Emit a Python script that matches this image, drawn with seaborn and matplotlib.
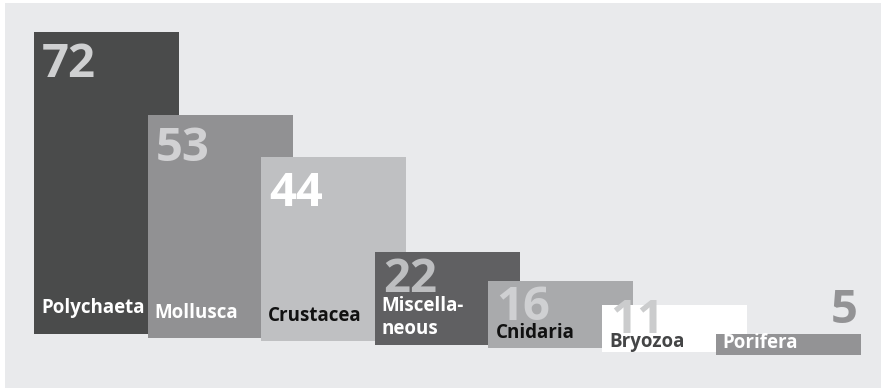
import matplotlib
matplotlib.use("Agg")
import matplotlib.pyplot as plt
import seaborn as sns

# ---- data ----
categories = ["Polychaeta", "Mollusca", "Crustacea", "Miscellaneous", "Cnidaria", "Bryozoa", "Porifera"]
label_texts = ["Polychaeta", "Mollusca", "Crustacea", "Miscella-\nneous", "Cnidaria", "Bryozoa", "Porifera"]
values = [72, 53, 44, 22, 16, 11, 5]

# ---- style ----
bar_colors = ["#4a4b4b", "#919193", "#bfc0c2", "#606062", "#a9aaac", "#ffffff", "#939395"]
num_colors = ["#cfd0d1", "#d1d1d3", "#ffffff", "#bdbec0", "#cfd0d2", "#cbcccd", "#939395"]
lab_colors = ["#ffffff", "#ffffff", "#111111", "#ffffff", "#111111", "#444546", "#ffffff"]
bg = "#e9eaec"

W, H = 883, 390
DPI = 100
PX_PER_UNIT = 4.19          # vertical pixels per value unit
STEP_PX = 113.6             # horizontal step between bars
BAR_W = 145.0 / STEP_PX     # bar width in category units
DROP_PX = 3.5               # each bar sits a bit lower
num_pad_px = [13, 14, 17, 8, 7, -4, 0]     # number top below bar top
lab_base_px = [21, 20, 20, 10, 10, 5, 7]   # label baseline above bar bottom

sns.set_theme(style="white")
plt.rcParams["font.family"] = ["Open Sans", "DejaVu Sans"]

fig = plt.figure(figsize=(W / DPI, H / DPI), dpi=DPI, facecolor="white")
ax_l, ax_t, ax_r, ax_b = 5, 3, 881, 388
ax = fig.add_axes([ax_l / W, 1 - ax_b / H, (ax_r - ax_l) / W, (ax_b - ax_t) / H])
ax.set_facecolor(bg)

sns.barplot(x=categories, y=values, hue=categories, palette=bar_colors,
            width=BAR_W, legend=False, saturation=1, ax=ax, linewidth=0)

drop_u = DROP_PX / PX_PER_UNIT
bars = list(ax.patches)
for i, p in enumerate(bars):
    p.set_y(-i * drop_u)
    p.set_edgecolor("none")

x0_px = 34 + 145 / 2
ax.set_xlim((ax_l - x0_px) / STEP_PX, (ax_r - x0_px) / STEP_PX)
ax.set_ylim(-(ax_b - 334) / PX_PER_UNIT, (334 - ax_t) / PX_PER_UNIT)
ax.set_xticks([])
ax.set_yticks([])
ax.set_xlabel("")
ax.set_ylabel("")
ax.grid(False)
for s in ax.spines.values():
    s.set_visible(False)

pt_per_px = 72.0 / DPI
for i, p in enumerate(bars):
    left = p.get_x()
    right = left + p.get_width()
    bottom = p.get_y()
    top = bottom + p.get_height()
    v = values[i]
    if i < len(bars) - 1:
        ax.annotate(str(v), xy=(left, top), xytext=(8 * pt_per_px, -(num_pad_px[i] + 32) * pt_per_px),
                    textcoords="offset points", ha="left", va="baseline",
                    fontsize=34, fontweight="bold", color=num_colors[i], zorder=3)
    else:
        ax.annotate(str(v), xy=(right, top), xytext=(-3 * pt_per_px, 11 * pt_per_px),
                    textcoords="offset points", ha="right", va="baseline",
                    fontsize=34, fontweight="bold", color=num_colors[i], zorder=3)
    ax.annotate(label_texts[i], xy=(left, bottom), xytext=(7 * pt_per_px, lab_base_px[i] * pt_per_px),
                textcoords="offset points", ha="left", va="baseline",
                fontsize=13.5, fontweight="bold", color=lab_colors[i], zorder=4,
                linespacing=1.25)

fig.savefig("out.png", dpi=DPI, facecolor="white")
